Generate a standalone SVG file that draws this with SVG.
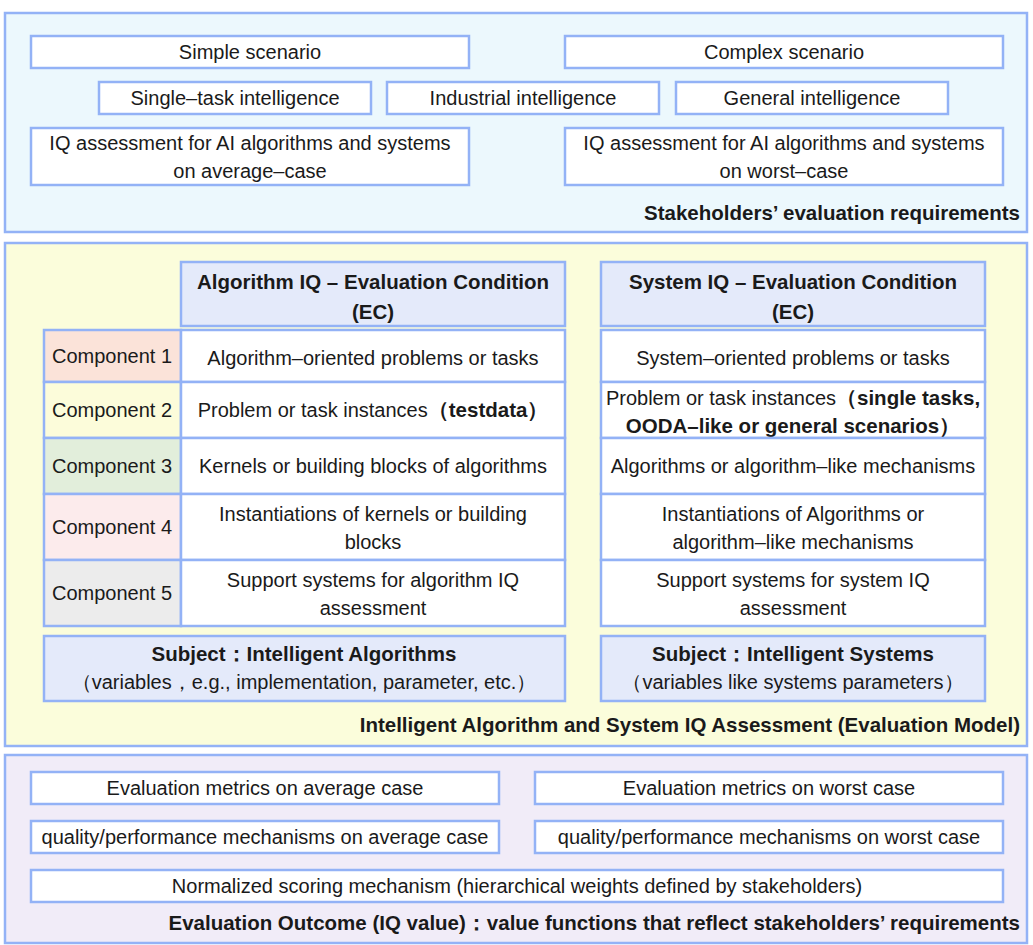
<svg xmlns="http://www.w3.org/2000/svg" width="1033" height="945" viewBox="0 0 1033 945">
<style>
text{font-family:"Liberation Sans",Arial,sans-serif;font-size:20px;fill:#1a1a1a;text-anchor:middle}
.b{font-weight:bold;font-size:20.5px}
.r{text-anchor:end}
.panel{stroke:#93b2f6;stroke-width:2.5}
.box{fill:#fff;stroke:#93b2f6;stroke-width:2.5}
.hdr{fill:#e4eafa;stroke:#93b2f6;stroke-width:2.5}
</style>
<rect width="1033" height="945" fill="#fff"/>
<g id="panel-requirements">
<rect class="panel" x="5" y="13" width="1022" height="219" fill="#ecf8fd"/>
<text class="b r" x="1020" y="220">Stakeholders’ evaluation requirements</text>
</g>
<g id="simple-scenario"><rect class="box" x="31" y="36" width="438" height="32"/><text x="250" y="59">Simple scenario</text></g>
<g id="complex-scenario"><rect class="box" x="565" y="36" width="438" height="32"/><text x="784" y="59">Complex scenario</text></g>
<g id="single-task"><rect class="box" x="99" y="82" width="272" height="32"/><text x="235" y="105">Single–task intelligence</text></g>
<g id="industrial"><rect class="box" x="387" y="82" width="272" height="32"/><text x="523" y="105">Industrial intelligence</text></g>
<g id="general"><rect class="box" x="676" y="82" width="272" height="32"/><text x="812" y="105">General intelligence</text></g>
<g id="iq-average"><rect class="box" x="31" y="128" width="438" height="57"/><text x="250" y="150">IQ assessment for AI algorithms and systems</text><text x="250" y="178">on average–case</text></g>
<g id="iq-worst"><rect class="box" x="565" y="128" width="438" height="57"/><text x="784" y="150">IQ assessment for AI algorithms and systems</text><text x="784" y="178">on worst–case</text></g>

<g id="panel-model">
<rect class="panel" x="5" y="243" width="1022" height="503" fill="#fbfddb"/>
<text class="b r" x="1020" y="732">Intelligent Algorithm and System IQ Assessment (Evaluation Model)</text>
</g>
<g id="algo-header"><rect class="hdr" x="181" y="262" width="384" height="64"/><text class="b" x="373" y="289">Algorithm IQ – Evaluation Condition</text><text class="b" x="373" y="319">(EC)</text></g>
<g id="sys-header"><rect class="hdr" x="601" y="262" width="384" height="64"/><text class="b" x="793" y="289">System IQ – Evaluation Condition</text><text class="b" x="793" y="319">(EC)</text></g>

<g id="component-1"><rect x="44" y="330" width="137" height="52" fill="#fbe3d9" stroke="#93b2f6" stroke-width="2.5"/><text x="112" y="363">Component 1</text></g>
<g id="component-2"><rect x="44" y="382" width="137" height="56" fill="#fcfcda" stroke="#93b2f6" stroke-width="2.5"/><text x="112" y="417">Component 2</text></g>
<g id="component-3"><rect x="44" y="438" width="137" height="56" fill="#e2eedb" stroke="#93b2f6" stroke-width="2.5"/><text x="112" y="473">Component 3</text></g>
<g id="component-4"><rect x="44" y="494" width="137" height="66" fill="#fcebec" stroke="#93b2f6" stroke-width="2.5"/><text x="112" y="534">Component 4</text></g>
<g id="component-5"><rect x="44" y="560" width="137" height="66" fill="#ececec" stroke="#93b2f6" stroke-width="2.5"/><text x="112" y="600">Component 5</text></g>

<g id="algo-c1"><rect class="box" x="181" y="330" width="384" height="52"/><text x="373" y="365">Algorithm–oriented problems or tasks</text></g>
<g id="algo-c2"><rect class="box" x="181" y="382" width="384" height="56"/><text x="373" y="417">Problem or task instances<tspan class="b">（testdata）</tspan></text></g>
<g id="algo-c3"><rect class="box" x="181" y="438" width="384" height="56"/><text x="373" y="473">Kernels or building blocks of algorithms</text></g>
<g id="algo-c4"><rect class="box" x="181" y="494" width="384" height="66"/><text x="373" y="521">Instantiations of kernels or building</text><text x="373" y="549">blocks</text></g>
<g id="algo-c5"><rect class="box" x="181" y="560" width="384" height="66"/><text x="373" y="587">Support systems for algorithm IQ</text><text x="373" y="615">assessment</text></g>

<g id="sys-c1"><rect class="box" x="601" y="330" width="384" height="52"/><text x="793" y="365">System–oriented problems or tasks</text></g>
<g id="sys-c2"><rect class="box" x="601" y="382" width="384" height="56"/><text x="793" y="405">Problem or task instances<tspan class="b">（single tasks,</tspan></text><text class="b" x="793" y="433">OODA–like or general scenarios）</text></g>
<g id="sys-c3"><rect class="box" x="601" y="438" width="384" height="56"/><text x="793" y="473">Algorithms or algorithm–like mechanisms</text></g>
<g id="sys-c4"><rect class="box" x="601" y="494" width="384" height="66"/><text x="793" y="521">Instantiations of Algorithms or</text><text x="793" y="549">algorithm–like mechanisms</text></g>
<g id="sys-c5"><rect class="box" x="601" y="560" width="384" height="66"/><text x="793" y="587">Support systems for system IQ</text><text x="793" y="615">assessment</text></g>

<g id="subject-algo"><rect class="hdr" x="44" y="636" width="521" height="65"/><text class="b" x="304" y="661">Subject：Intelligent Algorithms</text><text x="304" y="689">（variables，e.g., implementation, parameter, etc.）</text></g>
<g id="subject-sys"><rect class="hdr" x="601" y="636" width="384" height="65"/><text class="b" x="793" y="661">Subject：Intelligent Systems</text><text x="793" y="689">（variables like systems parameters）</text></g>

<g id="panel-outcome">
<rect class="panel" x="5" y="755" width="1022" height="188" fill="#f1ecf8"/>
<text class="b r" x="1020" y="930">Evaluation Outcome (IQ value)：value functions that reflect stakeholders’ requirements</text>
</g>
<g id="metrics-average"><rect class="box" x="31" y="772" width="468" height="32"/><text x="265" y="795">Evaluation metrics on average case</text></g>
<g id="metrics-worst"><rect class="box" x="535" y="772" width="468" height="32"/><text x="769" y="795">Evaluation metrics on worst case</text></g>
<g id="quality-average"><rect class="box" x="31" y="821" width="468" height="32"/><text x="265" y="844">quality/performance mechanisms on average case</text></g>
<g id="quality-worst"><rect class="box" x="535" y="821" width="468" height="32"/><text x="769" y="844">quality/performance mechanisms on worst case</text></g>
<g id="normalized-scoring"><rect class="box" x="31" y="870" width="972" height="32"/><text x="517" y="893">Normalized scoring mechanism (hierarchical weights defined by stakeholders)</text></g>
<g id="connectors"></g>
</svg>
